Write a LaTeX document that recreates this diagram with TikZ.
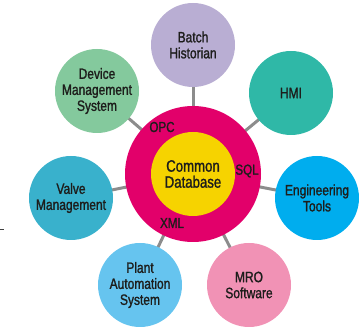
\documentclass[tikz,border=0pt]{standalone}
\usepackage{fontspec}
\setmainfont{Liberation Sans}[FakeStretch=0.8,FakeBold=1.3]
\definecolor{ringmag}{HTML}{E2006A}
\definecolor{coreyel}{HTML}{F6D300}
\definecolor{lav}{HTML}{B9AED3}
\definecolor{teal}{HTML}{2FB8A7}
\definecolor{mint}{HTML}{84C99D}
\definecolor{valveblue}{HTML}{39B1CC}
\definecolor{skyblue}{HTML}{66C4EF}
\definecolor{pinkish}{HTML}{F192B5}
\definecolor{cyanblue}{HTML}{00ADEE}
\definecolor{linkgray}{HTML}{8C8C8C}
\definecolor{txt}{HTML}{1D1D1B}
\tikzset{
  sat/.style={circle, minimum size=84pt, inner sep=0pt, draw=none, align=center,
    text=txt, font=\fontsize{15}{16}\selectfont},
  link/.style={draw=linkgray, line width=3pt},
  ringlabel/.style={text=txt, font=\fontsize{14.5}{15}\selectfont, inner sep=0pt}
}
\begin{document}
\begin{tikzpicture}[x=1pt,y=-1pt]
\useasboundingbox (0,0) rectangle (359,328);
\coordinate (c) at (193,174);
\node[sat] (batch) at (193,45) {};
\node[sat] (hmi) at (291,93) {};
\node[sat] (dms) at (97,91) {};
\node[sat] (valve) at (71,198) {};
\node[sat] (pas) at (140,285) {};
\node[sat] (mro) at (249,285) {};
\node[sat] (eng) at (317,198) {};
\foreach \n in {batch,hmi,dms,valve,pas,mro,eng}{
  \draw[link] (c) -- (\n.center);
}
\node[sat, fill=lav] at (batch) {Batch\\Historian};
\node[sat, fill=teal] at (hmi) {HMI};
\node[sat, fill=mint] at (dms) {Device\\Management\\System};
\node[sat, fill=valveblue] at (valve) {Valve\\Management};
\node[sat, fill=skyblue] at (pas) {Plant\\Automation\\System};
\node[sat, fill=pinkish] at (mro) {MRO\\Software};
\node[sat, fill=cyanblue] at (eng) {Engineering\\Tools};
\node[circle, minimum size=136pt, inner sep=0pt, fill=ringmag] (ring) at (c) {};
\node[circle, minimum size=84pt, inner sep=0pt, fill=coreyel, align=center, text=txt,
  font=\fontsize{16.5}{16}\selectfont] (core) at (c) {Common\\Database};
\node[ringlabel] (opc) at (162,127) {OPC};
\node[ringlabel] (sql) at (247,171) {SQL};
\node[ringlabel] (xml) at (172,223) {XML};
\draw[draw=black!75, line width=1pt] (0,230) -- (4,230);
\end{tikzpicture}
\end{document}
